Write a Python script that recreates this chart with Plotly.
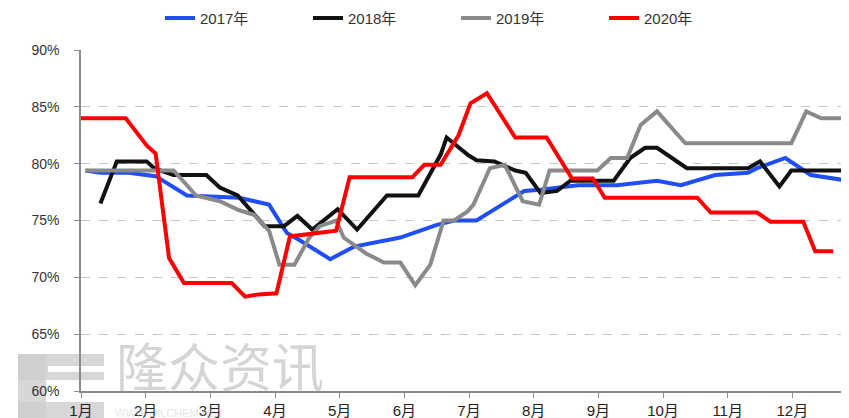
import plotly.graph_objects as go

# x = week of year (0..52), y = rate in %
weeks_2017 = [0.3, 1.3, 3.2, 5.0, 7.1, 10.6, 12.6, 13.8, 14.6, 16.7, 18.3, 21.4, 23.8, 25.0, 26.5, 27.9,
              29.7, 30.8, 33.3, 35.9, 38.6, 40.2, 42.5, 44.7, 45.3, 47.2, 48.9, 51.4]
vals_2017 = [79.4, 79.2, 79.2, 78.9, 77.2, 77.0, 76.4, 73.9, 73.3, 71.6, 72.7, 73.5, 74.6, 75.0, 75.0, 76.1,
             77.6, 77.7, 78.1, 78.1, 78.5, 78.1, 79.0, 79.2, 79.6, 80.5, 79.0, 78.5]

weeks_2018 = [1.3, 2.4, 4.4, 4.9, 6.2, 8.4, 9.3, 10.5, 12.3, 13.6, 14.5, 15.5, 17.2, 18.5, 20.5, 22.6,
              24.1, 24.5, 25.9, 26.5, 27.7, 29.1, 29.8, 30.8, 31.9, 32.8, 35.7, 36.8, 37.8, 38.6,
              40.6, 44.7, 45.5, 46.8, 47.6, 51.9]
vals_2018 = [76.5, 80.2, 80.2, 79.6, 79.0, 79.0, 77.9, 77.2, 74.5, 74.5, 75.4, 74.2, 76.0, 74.2, 77.2, 77.2,
             80.8, 82.3, 80.8, 80.3, 80.2, 79.4, 79.2, 77.4, 77.6, 78.5, 78.5, 80.5, 81.4, 81.4,
             79.6, 79.6, 80.2, 78.0, 79.4, 79.4]

weeks_2019 = [0.3, 6.2, 7.1, 7.7, 9.3, 10.6, 11.6, 12.6, 13.3, 14.3, 15.3, 16.0, 17.1, 17.6, 19.1, 20.3,
              21.4, 22.4, 23.4, 24.3, 25.0, 25.9, 26.3, 27.4, 28.4, 29.6, 30.7, 31.4, 34.6, 35.5,
              36.6, 37.5, 38.6, 40.5, 47.6, 48.6, 49.6, 51.6]
vals_2019 = [79.4, 79.4, 78.1, 77.2, 76.7, 75.9, 75.5, 74.1, 71.1, 71.1, 73.5, 74.5, 75.0, 73.5, 72.1, 71.3,
             71.3, 69.3, 71.1, 75.0, 75.0, 75.8, 76.4, 79.6, 79.9, 76.7, 76.4, 79.4, 79.4, 80.5,
             80.5, 83.4, 84.6, 81.8, 81.8, 84.6, 84.0, 84.0]

weeks_2020 = [0.0, 3.0, 4.4, 5.0, 5.9, 6.9, 10.1, 11.0, 11.9, 13.1, 14.0, 17.1, 18.0, 22.2, 23.0, 24.1,
              25.3, 26.1, 27.2, 29.1, 31.2, 32.9, 34.3, 35.1, 41.3, 42.2, 45.3, 46.2, 48.4, 49.2, 50.4]
vals_2020 = [84.0, 84.0, 81.6, 80.9, 71.7, 69.5, 69.5, 68.3, 68.5, 68.6, 73.6, 74.1, 78.8, 78.8, 79.9, 79.9,
             82.5, 85.3, 86.2, 82.3, 82.3, 78.7, 78.7, 77.0, 77.0, 75.7, 75.7, 74.9, 74.9, 72.3, 72.3]

series_names = ["2017年", "2018年", "2019年", "2020年"]
series_colors = ["#1f4ef5", "#111111", "#8a8a8a", "#ff0000"]
month_labels = [f"{m}月" for m in range(1, 13)]
month_ticks = [(m - 1) * 52 / 12 for m in range(1, 13)]
y_ticks = [60, 65, 70, 75, 80, 85, 90]

FONT = "Liberation Sans Narrow, Liberation Sans, Noto Sans CJK SC, sans-serif"

W, H = 849, 418
ML, MR, MT, MB = 73, 0, 42, 35
PW, PH = W - ML - MR, H - MT - MB


def px(x):
    return (x - ML) / PW


def py(y):
    return (H - MB - y) / PH


fig = go.Figure()
for name, color, xs, ys in zip(series_names, series_colors,
                               [weeks_2017, weeks_2018, weeks_2019, weeks_2020],
                               [vals_2017, vals_2018, vals_2019, vals_2020]):
    fig.add_trace(go.Scatter(x=xs, y=ys, mode="lines", name=name,
                             line=dict(color=color, width=4)))

# watermark logo (light gray blocks) and text
logo_col = "rgba(205,205,205,0.8)"
shapes = []
for (x0, y0, x1, y1, c) in [(10, 346, 96, 372, logo_col), (10, 346, 38, 418, logo_col),
                            (10, 394, 96, 418, logo_col), (40, 358, 96, 364, "white")]:
    shapes.append(dict(type="rect", xref="paper", yref="paper", x0=px(x0), x1=px(x1),
                       y0=py(y1), y1=py(y0), fillcolor=c, line=dict(width=0), layer="below"))

fig.add_annotation(text="隆众资讯", xref="paper", yref="paper", x=px(106), y=py(396),
                   xanchor="left", yanchor="bottom", showarrow=False,
                   font=dict(family="Noto Sans CJK SC", size=52, color="rgba(185,185,185,0.6)"))
fig.add_annotation(text="WWW.OILCHEM.NET", xref="paper", yref="paper", x=px(105), y=py(413),
                   xanchor="left", yanchor="bottom", showarrow=False,
                   font=dict(family="Liberation Sans", size=11, color="rgba(205,205,205,0.5)"))

fig.update_layout(
    width=W, height=H,
    margin=dict(l=ML, r=MR, t=MT, b=MB, autoexpand=False),
    paper_bgcolor="white", plot_bgcolor="white",
    font=dict(family=FONT, size=13, color="#333333"),
    shapes=shapes,
    showlegend=True,
    legend=dict(orientation="h", x=px(448), xanchor="center", y=1.045, yanchor="bottom",
                font=dict(family=FONT, size=15, color="#333333"),
                entrywidth=103, entrywidthmode="pixels", tracegroupgap=0,
                bgcolor="rgba(0,0,0,0)"),
    xaxis=dict(range=[0, 52], tickvals=month_ticks, ticktext=month_labels,
               showgrid=False, zeroline=False, showline=True, linecolor="#8a8a8a", linewidth=2,
               ticks="outside", ticklen=5, tickcolor="#8a8a8a",
               tickfont=dict(family=FONT, size=15, color="#222222")),
    yaxis=dict(range=[60, 90], tickvals=y_ticks, ticktext=[f"{v}%" for v in y_ticks],
               showgrid=True, gridcolor="#c4c4c4", griddash="dash", gridwidth=1,
               zeroline=False, showline=True, linecolor="#8a8a8a", linewidth=1.5,
               ticks="outside", ticklen=5, tickcolor="#8a8a8a", ticklabelstandoff=12,
               tickfont=dict(family=FONT, size=14, color="#333333")),
)

fig.write_html("out.html")
